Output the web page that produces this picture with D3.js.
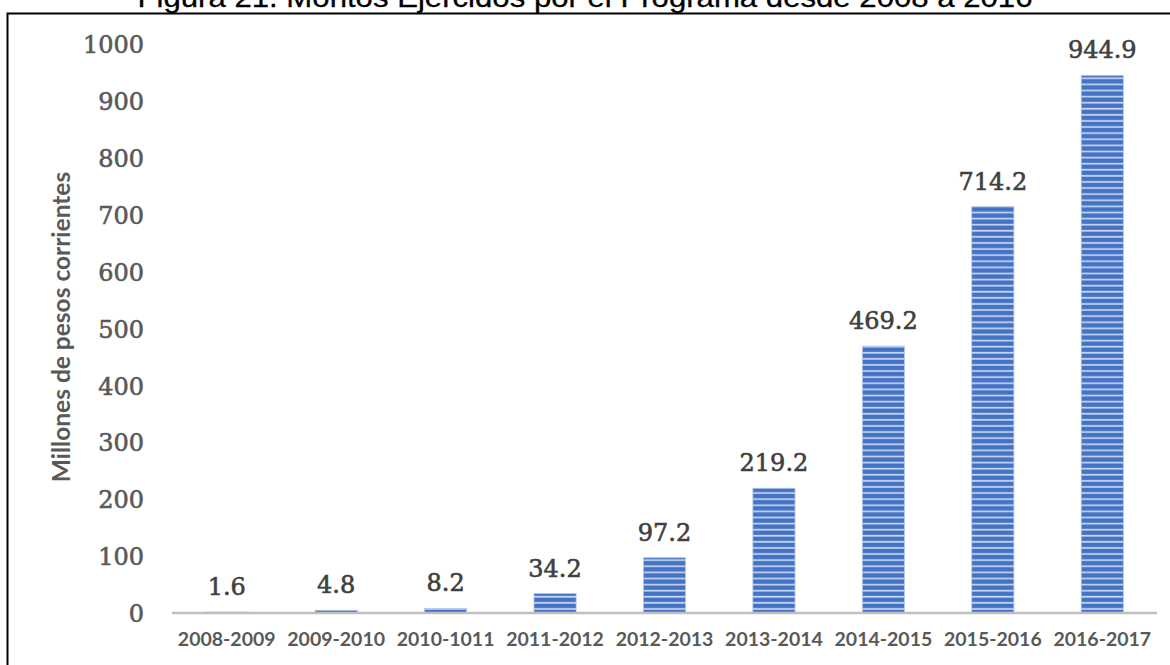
<!DOCTYPE html>
<html><head><meta charset="utf-8">
<script src="https://cdn.jsdelivr.net/npm/d3@7"></script>
<style>html,body{margin:0;padding:0;background:#fff;}svg{display:block;}</style>
</head><body>
<script>
const categories = ["2008-2009","2009-2010","2010-1011","2011-2012","2012-2013","2013-2014","2014-2015","2015-2016","2016-2017"];
const values = [1.6, 4.8, 8.2, 34.2, 97.2, 219.2, 469.2, 714.2, 944.9];
const valueLabels = ["1.6","4.8","8.2","34.2","97.2","219.2","469.2","714.2","944.9"];
const yTicks = [0,100,200,300,400,500,600,700,800,900,1000];
const titleText = "Figura 21. Montos Ejercidos por el Programa desde 2008 a 2016";
const yTitle = "Millones de pesos corrientes";

const W = 1170, H = 665;
const svg = d3.select("body").append("svg").attr("width", W).attr("height", H);

const defs = svg.append("defs");
const pat = defs.append("pattern").attr("id","stripes").attr("patternUnits","userSpaceOnUse")
  .attr("width", 8).attr("height", 6.1).attr("y", 0);
pat.append("rect").attr("width", 8).attr("height", 6.1).attr("fill", "#4472C4");
pat.append("rect").attr("y", 4.2).attr("width", 8).attr("height", 1.7).attr("fill", "#c9d6ef");

// title (clipped at top, as in the reference)
svg.append("text").attr("x", 585).attr("y", 7).attr("text-anchor","middle")
  .attr("font-family","Liberation Sans, Arial, sans-serif").attr("font-size", 28)
  .attr("fill","#000").attr("stroke","#000").attr("stroke-width",0.3)
  .attr("textLength", 895).attr("lengthAdjust","spacingAndGlyphs")
  .text(titleText);

// frame
svg.append("path").attr("d","M7.5,665 L7.5,13.5 L1175,13.5").attr("fill","none").attr("stroke","#000").attr("stroke-width",2);

const x = d3.scaleBand().domain(categories).range([172, 1157]).paddingInner(0.615).paddingOuter(0.3075);
const y = d3.scaleLinear().domain([0, 1000]).range([613, 44]);

const serifStyle = sel => sel.attr("font-family","DejaVu Serif, serif").attr("font-weight","normal")
  .attr("font-size", 24).attr("stroke-width", 0.6);

// y tick labels
const yAxis = svg.append("g").attr("transform","translate(144,0)")
  .call(d3.axisLeft(y).tickValues(yTicks).tickSize(0).tickPadding(0).tickFormat(d3.format("d")));
yAxis.select(".domain").remove();
yAxis.selectAll("text").call(serifStyle).attr("fill","#595959").attr("stroke","#595959").attr("dy","0.36em");

// bars
svg.append("g").selectAll("rect").data(values).join("rect")
  .attr("x", (d,i) => x(categories[i]))
  .attr("y", d => y(d))
  .attr("width", x.bandwidth())
  .attr("height", d => y(0) - y(d))
  .attr("fill", "url(#stripes)")
  .attr("stroke", "#b4c7e7").attr("stroke-width", 0.8);

// x baseline
svg.append("line").attr("x1",172).attr("x2",1157).attr("y1",613).attr("y2",613)
  .attr("stroke","#bfbfbf").attr("stroke-width",2.5);

// x axis labels
const xAxis = svg.append("g").attr("transform","translate(0,613)")
  .call(d3.axisBottom(x).tickSize(0).tickPadding(0));
xAxis.select(".domain").remove();
xAxis.selectAll("text").attr("font-family","Lato, sans-serif").attr("font-weight","bold")
  .attr("font-size", 19.5).attr("fill","#595959").attr("y", 33).attr("dy", 0);

// value labels
svg.append("g").selectAll("text").data(values).join("text")
  .attr("x", (d,i) => x(categories[i]) + x.bandwidth()/2)
  .attr("y", d => y(d) - 17)
  .attr("text-anchor","middle")
  .call(serifStyle).attr("fill","#404040").attr("stroke","#404040")
  .text((d,i) => valueLabels[i]);

// y title
svg.append("text").attr("transform","translate(70,327) rotate(-90)").attr("text-anchor","middle")
  .attr("font-family","Lato, sans-serif").attr("font-weight","bold").attr("font-size", 24.5)
  .attr("fill","#595959").text(yTitle);
</script>
</body></html>
